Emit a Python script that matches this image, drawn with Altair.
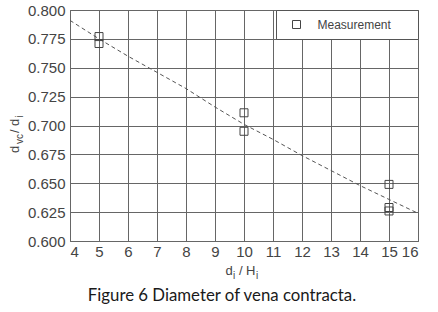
import altair as alt
import pandas as pd

# ---- data ----
meas_x = [5, 5, 10, 10, 15, 15, 15]
meas_y = [0.777, 0.771, 0.711, 0.695, 0.649, 0.629, 0.626]
series_name = "Measurement"

fit_x = [4, 5, 6, 7, 8, 9, 10, 11, 12, 13, 14, 15, 16]
fit_y = [0.791, 0.775, 0.760, 0.746, 0.732, 0.716, 0.701, 0.688, 0.674, 0.661, 0.648, 0.636, 0.624]

x_ticks = [4, 5, 6, 7, 8, 9, 10, 11, 12, 13, 14, 15, 16]
y_ticks = [0.600, 0.625, 0.650, 0.675, 0.700, 0.725, 0.750, 0.775, 0.800]
caption = "Figure 6 Diameter of vena contracta."

meas = pd.DataFrame({"x": meas_x, "y": meas_y, "series": series_name})
fit = pd.DataFrame({"x": fit_x, "y": fit_y})

FONT = "Liberation Sans"
INK = "#444"

xscale = alt.Scale(domain=[x_ticks[0], x_ticks[-1]], nice=False, zero=False)
yscale = alt.Scale(domain=[y_ticks[0], y_ticks[-1]], nice=False, zero=False)
xaxis = alt.Axis(values=x_ticks, format="d", title=None, labelPadding=3)
yaxis = alt.Axis(values=y_ticks, format=".3f", title=None, labelPadding=5)

line = alt.Chart(fit).mark_line(color="#555", strokeWidth=1, strokeDash=[4, 3]).encode(
    x=alt.X("x:Q", scale=xscale, axis=xaxis),
    y=alt.Y("y:Q", scale=yscale, axis=yaxis),
)

pad = "\u2800" * 2  # invisible blank glyphs to widen the legend frame
points = alt.Chart(meas).mark_point(shape="square", size=64, filled=False, strokeWidth=1, opacity=1).encode(
    x=alt.X("x:Q", scale=xscale, axis=xaxis),
    y=alt.Y("y:Q", scale=yscale, axis=yaxis),
    color=alt.Color(
        "series:N",
        scale=alt.Scale(range=[INK]),
        legend=alt.Legend(
            title=None, orient="top-right", offset=0,
            fillColor="white", strokeColor="#555", padding=8.5,
            symbolType="square", symbolSize=64, symbolStrokeWidth=1,
            symbolFillColor="transparent", symbolStrokeColor=INK,
            symbolOffset=6, labelOffset=15,
            labelFont=FONT, labelFontSize=12, labelColor=INK,
            labelExpr="datum.label + '" + pad + "'",
        ),
    ),
)

one = alt.Data(values=[{}])

def txt(s, x, y, size=13, angle=0, align="left", font=FONT, color=INK):
    return alt.Chart(one).mark_text(
        align=align, baseline="alphabetic", font=font, fontSize=size, angle=angle, color=color
    ).encode(x=alt.value(x), y=alt.value(y), text=alt.value(s))

# x-axis title  d_i / H_i
xt = [
    txt("d", 155.5, 265),
    txt("i", 163, 269, size=10),
    txt("/", 169, 265),
    txt("H", 176, 265),
    txt("i", 186, 269, size=10),
]
# y-axis title  d_vc / d_i (rotated)
yt = [
    txt("d", -51, 143, angle=270),
    txt("vc", -47.5, 134, size=10, angle=270),
    txt("/", -51, 123, angle=270),
    txt("d", -51, 116, angle=270),
    txt("i", -47.5, 107.5, size=10, angle=270),
]
cap = [txt(caption, 152, 290.5, size=16.8, align="center", font="Lato", color="#1a1a1a")]

chart = alt.layer(line, points, *xt, *yt, *cap).properties(
    width=348, height=231,
    autosize=alt.AutoSizeParams(type="none"),
    padding={"left": 70, "top": 10, "right": 20, "bottom": 71},
).configure_view(stroke="#555", strokeWidth=1).configure_axis(
    domain=False, ticks=False, grid=True, gridColor="#666", gridWidth=1,
    labelFont=FONT, labelFontSize=15, labelColor=INK,
)

chart.save("out.html", embed_options={"renderer": "svg", "actions": False})
